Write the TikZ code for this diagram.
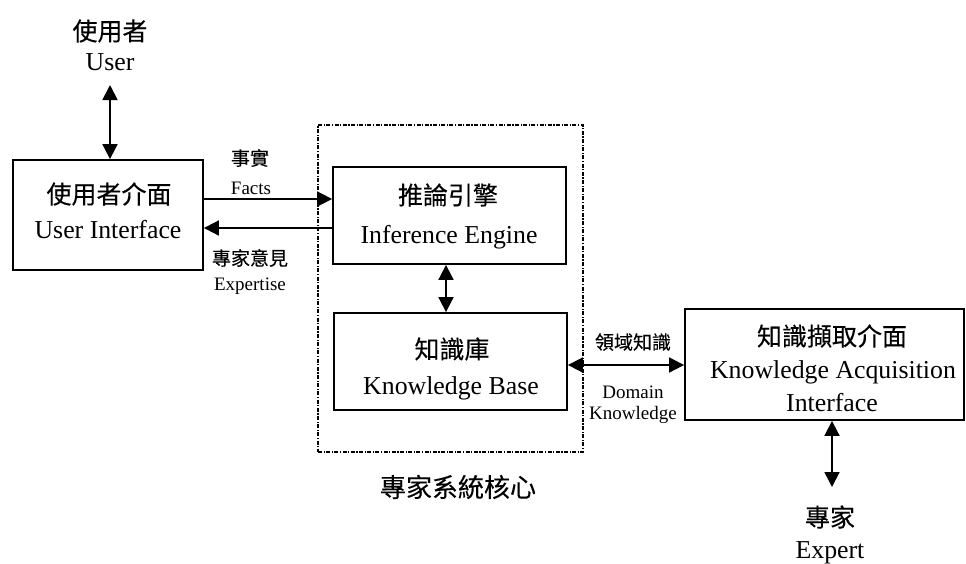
\documentclass[tikz,border=0pt]{standalone}
\usepackage{fontspec}
\setmainfont{Liberation Serif}
\newfontfamily\cjk[FakeBold=0.25]{Noto Sans CJK TC}
\usetikzlibrary{arrows.meta}

\tikzset{
  box/.style={draw, line width=1.8pt, rectangle, inner sep=0pt},
  corebox/.style={draw, line width=1.1pt, rectangle, inner sep=0pt,
    dash pattern=on 4pt off 1.5pt on 1.2pt off 1.5pt},
  link/.style={line width=1.8pt, {Triangle[length=15pt,width=15pt]}-{Triangle[length=15pt,width=15pt]}},
  oneway/.style={line width=1.8pt, -{Triangle[length=15pt,width=15pt]}},
  big/.style={inner sep=0pt, font=\fontsize{25.8}{30}\selectfont},
  bigzh/.style={inner sep=0pt, font=\cjk\fontsize{25}{30}\selectfont},
  small/.style={inner sep=0pt, font=\fontsize{19}{23}\selectfont},
  smallzh/.style={inner sep=0pt, font=\cjk\fontsize{19}{23}\selectfont},
}

\begin{document}
\begin{tikzpicture}[x=1pt, y=-1pt]
\useasboundingbox (0,0) rectangle (966,563);

% expert-system core (dash-dotted frame)
\node[corebox, minimum width=265pt, minimum height=327pt] (core) at (450.5,288.5) {};
\node[bigzh, font=\cjk\fontsize{26}{30}\selectfont] (corelbl) at (458,487) {專家系統核心};

% boxes
\node[box, minimum width=190pt, minimum height=110pt] (ui) at (108,215) {};
\node[box, minimum width=233pt, minimum height=97pt] (ie) at (449.5,215.5) {};
\node[box, minimum width=233pt, minimum height=97pt] (kb) at (450.5,361.5) {};
\node[box, minimum width=279pt, minimum height=111pt] (ka) at (824.5,364.5) {};

% user
\node[bigzh] (userzh) at (110,31) {使用者};
\node[big, anchor=base] (useren) at (110,70) {User};
\coordinate (usertip) at (110,85);

% user interface text
\node[bigzh] (uizh) at (109,194) {使用者介面};
\node[big, anchor=base] (uien) at (108,238) {User Interface};

% inference engine text
\node[bigzh] (iezh) at (448,195) {推論引擎};
\node[big, anchor=base] (ieen) at (449,243) {Inference Engine};

% knowledge base text
\node[bigzh] (kbzh) at (452,349) {知識庫};
\node[big, anchor=base] (kben) at (451,394) {Knowledge Base};

% knowledge acquisition interface text
\node[bigzh] (kazh) at (832,336) {知識擷取介面};
\node[big, anchor=base] (kaen1) at (833,378) {Knowledge Acquisition};
\node[big, anchor=base] (kaen2) at (832,411) {Interface};

% expert
\coordinate (experttip) at (832,487);
\node[bigzh] (expzh) at (830,517) {專家};
\node[big, anchor=base] (expen) at (830,558) {Expert};

% connector labels
\node[smallzh] (factszh) at (250,158) {事實};
\node[small, anchor=base] (factsen) at (251,194) {Facts};
\node[smallzh] (expertisezh) at (250,258) {專家意見};
\node[small, anchor=base] (expertiseen) at (250,290) {Expertise};
\node[smallzh] (domzh) at (633,342) {領域知識};
\node[small, anchor=base] (domen1) at (633,398) {Domain};
\node[small, anchor=base] (domen2) at (633,419) {Knowledge};

% connectors
\draw[link] (usertip) -- (usertip |- ui.north);
\draw[oneway] (ui.east |- 0,199) -- (ie.west |- 0,199);
\draw[oneway] (ie.west |- 0,228) -- (ui.east |- 0,228);
\draw[link] (ie.south -| 446,0) -- (kb.north -| 446,0);
\draw[link] (kb.east |- 0,365) -- (ka.west |- 0,365);
\draw[link] (ka.south -| experttip) -- (experttip);
\end{tikzpicture}
\end{document}
